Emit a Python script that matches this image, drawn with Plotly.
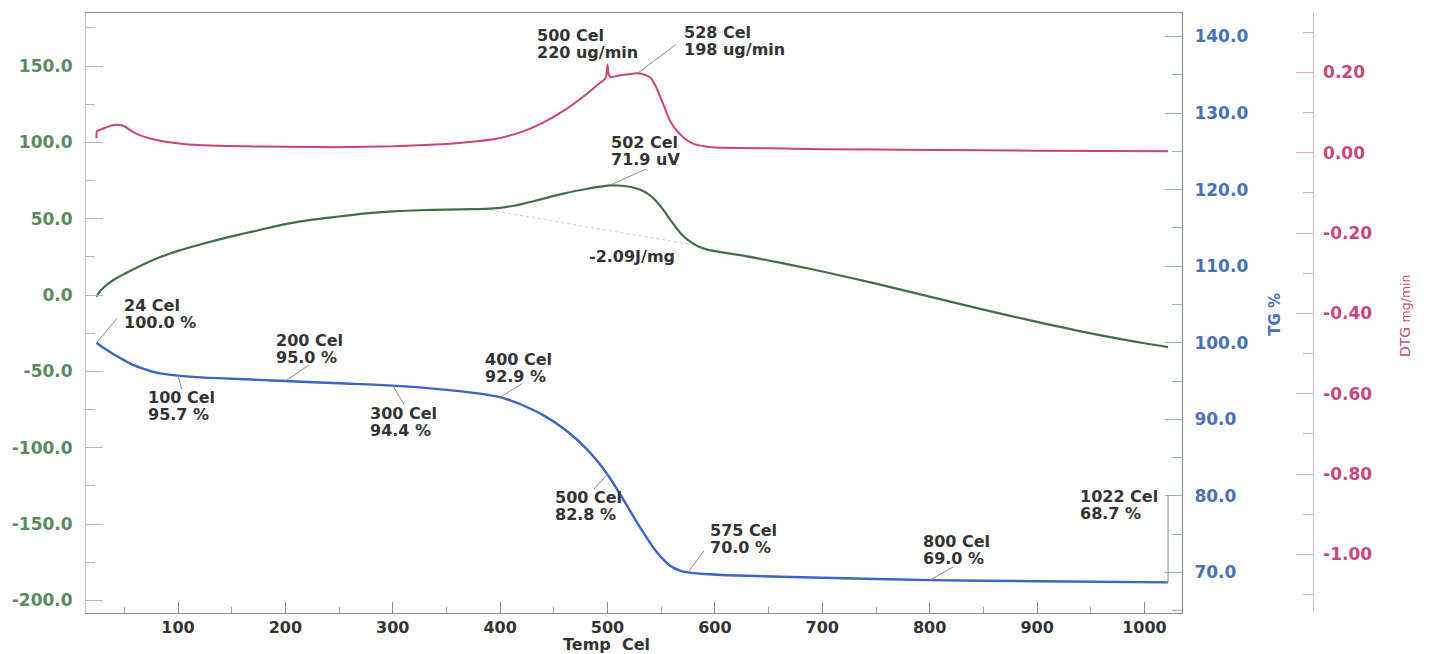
import plotly.graph_objects as go

# ---- DTA signal (uV) vs temperature (Cel) ----
dta_temp = [24, 28, 35, 45, 60, 80, 100, 125, 150, 175, 200, 225, 250, 275, 300, 325, 350,
            375, 390, 400, 410, 420, 430, 440, 450, 460, 470, 480, 490, 502, 510, 520, 530,
            538, 545, 552, 560, 568, 576, 584, 592, 600, 625, 650, 675, 700, 750, 800, 850,
            900, 950, 1000, 1022]
dta_uv = [-1.0, 3.0, 7.5, 12.0, 17.5, 24.0, 29.0, 34.0, 38.5, 42.5, 46.5, 49.5, 51.5, 53.5,
          54.8, 55.6, 56.0, 56.3, 56.7, 57.2, 58.2, 59.6, 61.3, 63.1, 65.0, 66.7, 68.2, 69.5,
          70.7, 71.9, 71.8, 71.0, 69.2, 66.2, 61.8, 55.8, 47.8, 40.6, 35.5, 32.0, 30.0, 28.8,
          26.0, 22.7, 19.2, 15.5, 7.5, -1.0, -9.5, -17.5, -25.0, -31.5, -34.0]

# integration baseline of the DTA peak
base_temp = [380, 577]
base_uv = [56.8, 33.3]

# ---- TG mass (%) vs temperature ----
tg_temp = [24, 32, 40, 50, 58, 68, 77, 88, 100, 125, 150, 175, 200, 250, 300, 350, 375, 390,
           400, 410, 420, 440, 460, 480, 500, 515, 530, 545, 558, 568, 575, 590, 620, 700,
           800, 900, 1022]
tg_pct = [100.0, 99.2, 98.5, 97.7, 97.1, 96.6, 96.2, 95.9, 95.7, 95.45, 95.3, 95.15, 95.0,
          94.7, 94.4, 93.85, 93.45, 93.15, 92.9, 92.45, 91.9, 90.55, 88.7, 86.2, 82.8, 79.45,
          75.95, 72.8, 70.9, 70.2, 70.0, 69.8, 69.6, 69.3, 69.0, 68.85, 68.7]

# ---- DTG rate (mg/min) vs temperature ----
dtg_temp = [24, 24.5, 28, 33, 38, 44, 50, 58, 66, 75, 90, 105, 130, 160, 200, 250, 300, 350,
            380, 400, 420, 440, 460, 480, 492, 498, 499.5, 500, 501, 503, 510, 518, 523, 528,
            535, 540, 545, 552, 558, 565, 572, 580, 590, 600, 650, 700, 800, 900, 1022]
dtg_mgmin = [0.036, 0.054, 0.058, 0.063, 0.068, 0.070, 0.066, 0.052, 0.042, 0.035, 0.027,
             0.022, 0.018, 0.016, 0.015, 0.014, 0.016, 0.022, 0.029, 0.037, 0.052, 0.075,
             0.106, 0.145, 0.172, 0.185, 0.205, 0.220, 0.196, 0.188, 0.192, 0.195, 0.197,
             0.198, 0.194, 0.187, 0.165, 0.120, 0.080, 0.053, 0.035, 0.022, 0.016, 0.013,
             0.011, 0.009, 0.007, 0.005, 0.004]

# ---- axis ticks ----
x_ticks = [100, 200, 300, 400, 500, 600, 700, 800, 900, 1000]
dta_ticks = [-200, -150, -100, -50, 0, 50, 100, 150]
tg_ticks = [70, 80, 90, 100, 110, 120, 130, 140]
dtg_ticks = [-1.0, -0.8, -0.6, -0.4, -0.2, 0.0, 0.2]

# ---- point labels ----
# (temp, value, leader end dx, dy, text dx, first line dy) -- offsets in pixels
tg_labels = [(24, 100.0, 22, -26, 26, -37),
             (100, 95.7, 4, 15, -32, 22),
             (200, 95.0, 25, -17, -11, -41),
             (300, 94.4, 12, 20, -25, 28),
             (400, 92.9, 23, -14, -17, -38),
             (500, 82.8, -15, 16, -55, 23),
             (575, 70.0, 17, -23, 20, -42),
             (800, 69.0, 25, -14, -9, -39),
             (1022, 68.7, 0, -89, -90, -86)]
dtg_labels = [(500, 0.220, None, None, -73, -29),
              (528, 0.198, 40, -30, 44, -41)]
dta_labels = [(502, 71.9, 38, -17, -1, -43)]
peak_heat = "-2.09J/mg"

GREEN = "#3f6f48"
BLUE = "#3b64c4"
MAGENTA = "#c8437f"
TXT = "#333333"
FONT = "DejaVu Sans"
LINE_GAP = 17

ann_font = dict(family=FONT, size=16, color=TXT, weight="bold")
annotations = []


def add_label(t, v, yref, lines, lx, ly, tx, ty):
    if lx is not None:
        annotations.append(dict(x=t, y=v, xref="x", yref=yref, text="", showarrow=True,
                                arrowhead=0, arrowwidth=1, arrowcolor="#8c8c8c",
                                ax=lx, ay=ly, standoff=0))
    for i, line in enumerate(lines):
        annotations.append(dict(x=t, y=v, xref="x", yref=yref, text=line, showarrow=False,
                                xanchor="left", yanchor="middle",
                                xshift=tx, yshift=-(ty + i * LINE_GAP), font=ann_font))


for t, v, lx, ly, tx, ty in tg_labels:
    add_label(t, v, "y2", [f"{t} Cel", f"{v:.1f} %"], lx, ly, tx, ty)
for t, v, lx, ly, tx, ty in dtg_labels:
    add_label(t, v, "y3", [f"{t} Cel", f"{round(v * 1000)} ug/min"], lx, ly, tx, ty)
for t, v, lx, ly, tx, ty in dta_labels:
    add_label(t, v, "y", [f"{t} Cel", f"{v:.1f} uV"], lx, ly, tx, ty)

annotations.append(dict(x=0.412, y=0.595, xref="paper", yref="paper", text=peak_heat,
                        xanchor="center", yanchor="middle", showarrow=False, font=ann_font))

# axis titles
annotations.append(dict(x=0.393, y=-0.053, xref="paper", yref="paper",
                        text="Temp\u00a0 Cel", showarrow=False,
                        xanchor="center", yanchor="middle",
                        font=dict(family=FONT, size=16, color=TXT, weight="bold")))
annotations.append(dict(x=0.8974, y=0.497, xref="paper", yref="paper", text="TG %",
                        textangle=-90, showarrow=False, xanchor="center", yanchor="middle",
                        font=dict(family=FONT, size=15, color="#4a6fb8", weight="bold")))
annotations.append(dict(x=0.9955, y=0.495, xref="paper", yref="paper",
                        text="DTG <span style='font-size:12.5px'>mg/min</span>",
                        textangle=-90, showarrow=False, xanchor="center", yanchor="middle",
                        font=dict(family=FONT, size=14, color="#c8487e")))

tickfont = dict(family=FONT, size=17, weight="bold")

fig = go.Figure()
fig.add_trace(go.Scatter(x=base_temp, y=base_uv, mode="lines",
                         line=dict(color="#c9c9c9", width=1, dash="dot"), yaxis="y"))
fig.add_trace(go.Scatter(x=dta_temp, y=dta_uv, mode="lines",
                         line=dict(color=GREEN, width=2.2, shape="spline", smoothing=0.7),
                         yaxis="y"))
fig.add_trace(go.Scatter(x=tg_temp, y=tg_pct, mode="lines",
                         line=dict(color=BLUE, width=2.4, shape="spline", smoothing=0.7),
                         yaxis="y2"))
fig.add_trace(go.Scatter(x=dtg_temp, y=dtg_mgmin, mode="lines",
                         line=dict(color=MAGENTA, width=2.0, shape="spline", smoothing=0.4),
                         yaxis="y3"))

fig.update_layout(
    width=1431, height=654,
    margin=dict(l=86, r=20, t=13, b=41),
    paper_bgcolor="white", plot_bgcolor="white",
    showlegend=False,
    annotations=annotations,
    xaxis=dict(
        domain=[0, 0.8272], range=[14.3, 1035],
        tickmode="array", tickvals=x_ticks, ticktext=[str(v) for v in x_ticks],
        ticks="inside", ticklen=11, tickcolor="#8a8a8a", tickwidth=1,
        minor=dict(tickmode="linear", tick0=0, dtick=50, ticks="inside", ticklen=6,
                   tickcolor="#9a9a9a"),
        showline=True, linecolor="#8a8a8a", linewidth=1, mirror=True,
        showgrid=False, zeroline=False,
        tickfont=dict(tickfont, color="#333333", size=16),
    ),
    yaxis=dict(
        range=[-208.2, 184.8],
        tickmode="array", tickvals=dta_ticks, ticktext=[f"{v:.1f}" for v in dta_ticks],
        ticks="inside", ticklen=17, tickcolor="#a9c3a9",
        minor=dict(tickmode="linear", tick0=0, dtick=25, ticks="inside", ticklen=9,
                   tickcolor="#a9c3a9"),
        showline=True, linecolor="#b9cdb9", linewidth=1,
        showgrid=False, zeroline=False, ticklabelstandoff=9,
        tickfont=dict(tickfont, color="#5b8a62"),
    ),
    yaxis2=dict(
        overlaying="y", side="right", anchor="x",
        range=[64.7, 143.07],
        tickmode="array", tickvals=tg_ticks, ticktext=[f"{v:.1f}" for v in tg_ticks],
        ticks="inside", ticklen=17, tickcolor="#8fb0de",
        minor=dict(tickmode="linear", tick0=0, dtick=5, ticks="inside", ticklen=10,
                   tickcolor="#8fb0de"),
        showline=True, linecolor="#7d8ca6", linewidth=1,
        showgrid=False, zeroline=False, ticklabelstandoff=8,
        tickfont=dict(tickfont, color="#4a70b8"),
    ),
    yaxis3=dict(
        overlaying="y", side="right", anchor="free", position=0.9258,
        range=[-1.146, 0.348],
        tickmode="array", tickvals=dtg_ticks, ticktext=[f"{v:.2f}" for v in dtg_ticks],
        ticks="inside", ticklen=17, tickcolor="#eaa6c4",
        minor=dict(tickmode="linear", tick0=0, dtick=0.1, ticks="inside", ticklen=10,
                   tickcolor="#eaa6c4"),
        showline=True, linecolor="#f0b4cd", linewidth=1,
        showgrid=False, zeroline=False, ticklabelstandoff=6,
        tickfont=dict(tickfont, color="#c8487e"),
    ),
)

fig.write_html("out.html")
